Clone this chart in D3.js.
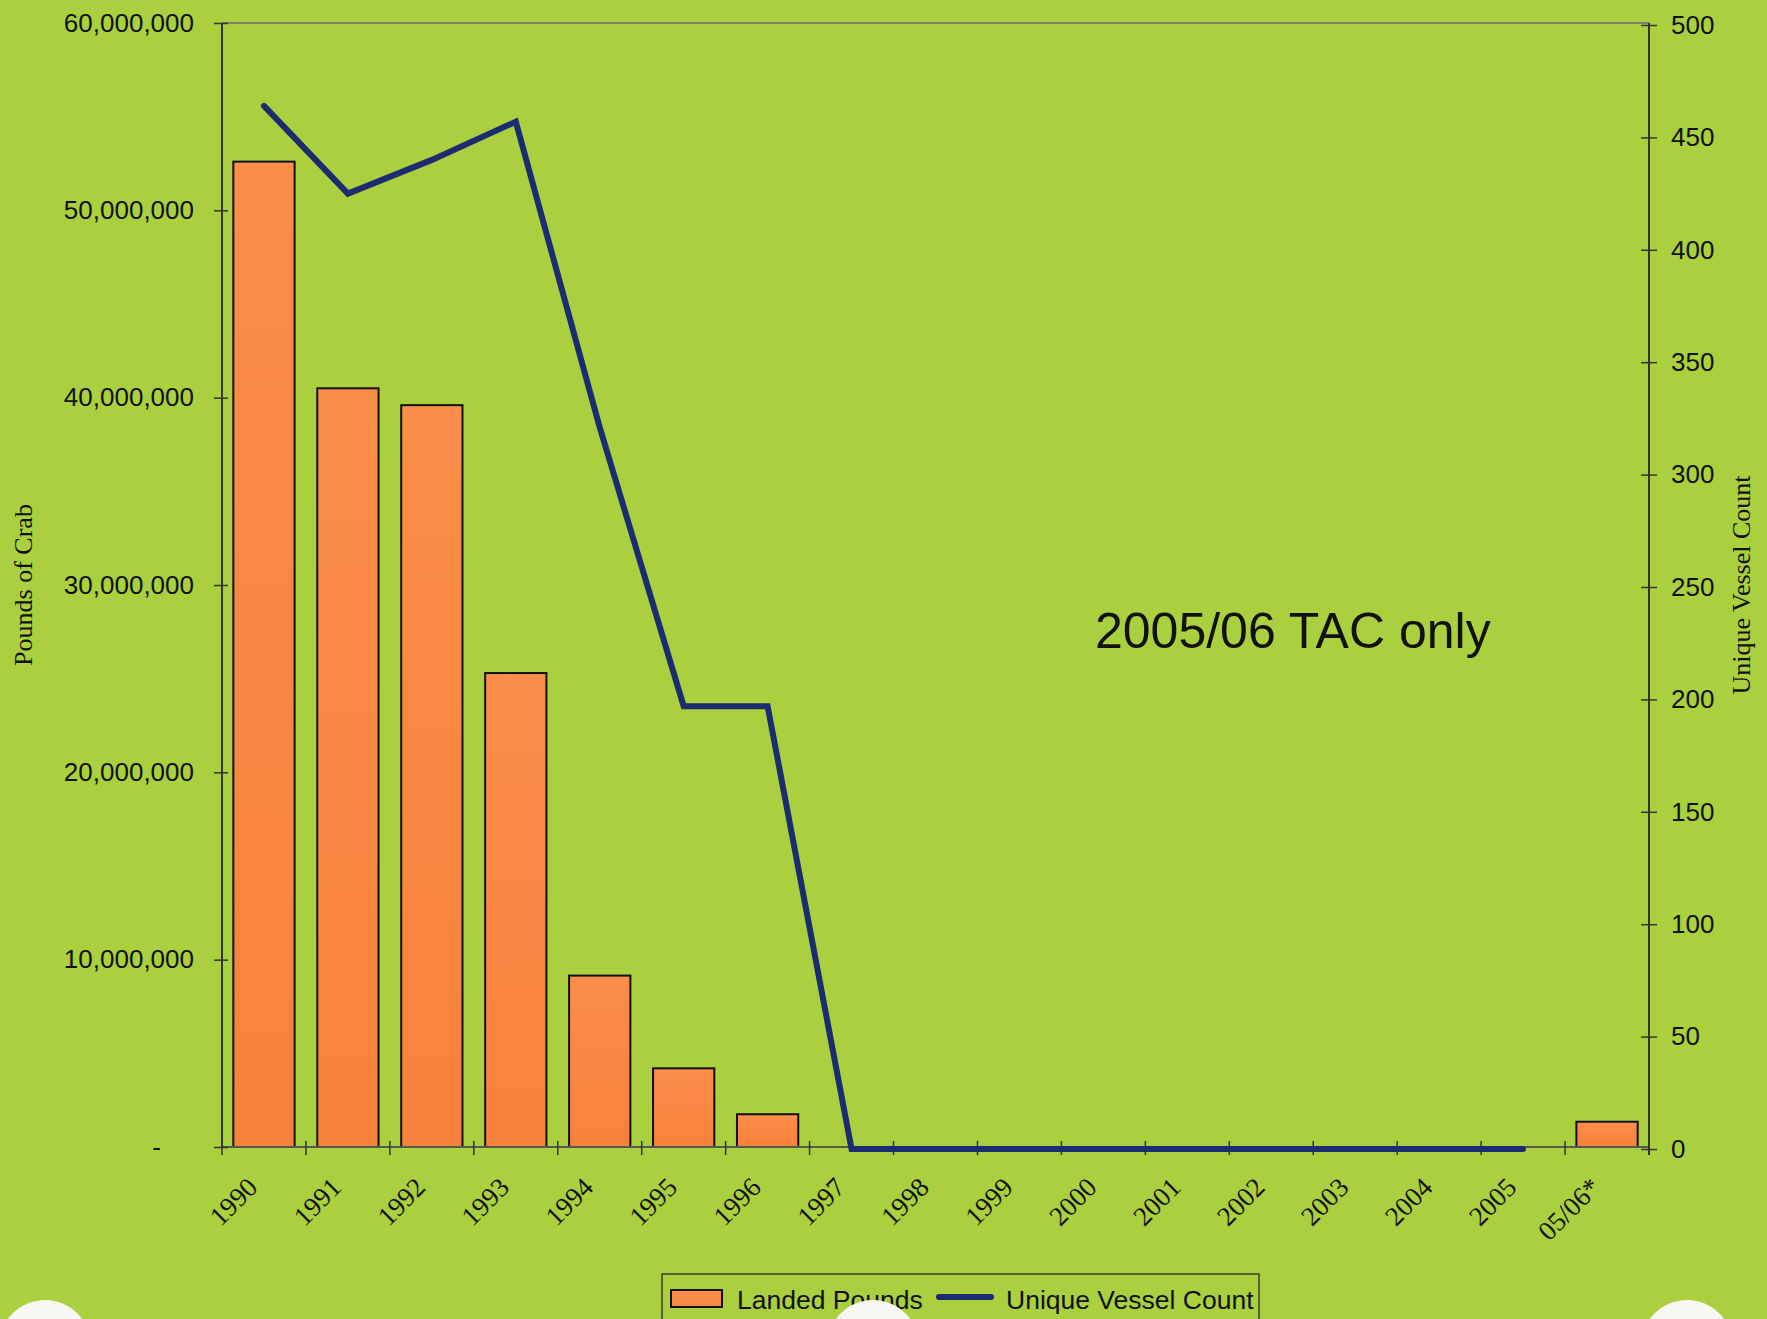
<!DOCTYPE html>
<html>
<head>
<meta charset="utf-8">
<script src="https://cdn.jsdelivr.net/npm/d3@7"></script>
<style>
  html, body { margin: 0; padding: 0; background: #aacf3f; }
  svg { display: block; }
</style>
</head>
<body>
<svg id="chart" width="1767" height="1319"></svg>
<script>
// Seasons on the category axis
const seasons = ["1990","1991","1992","1993","1994","1995","1996","1997","1998","1999","2000","2001","2002","2003","2004","2005","05/06*"];
// Landed pounds per season (bars, left axis)
const landedPounds = [52600000, 40500000, 39600000, 25300000, 9150000, 4200000, 1750000, 0, 0, 0, 0, 0, 0, 0, 0, 0, 1350000];
// Unique vessel count per season (line, right axis); none reported for 05/06*
const vesselCount = [464, 425, 440, 457, 321, 197, 197, 0, 0, 0, 0, 0, 0, 0, 0, 0, null];
// Axis tick values
const poundTicks = [0, 10000000, 20000000, 30000000, 40000000, 50000000, 60000000];
const vesselTicks = [0, 50, 100, 150, 200, 250, 300, 350, 400, 450, 500];

const svg = d3.select("#chart");
const W = 1767, H = 1319;
const plot = { left: 222, right: 1649, top: 23, bottom: 1147 };

svg.append("rect").attr("width", W).attr("height", H).attr("fill", "#aacf3f");

const x = d3.scaleBand().domain(seasons).range([plot.left, plot.right])
  .paddingInner(0.27).paddingOuter(0.135);
const yL = d3.scaleLinear().domain([0, 60000000]).range([plot.bottom, plot.top]);
const yR = d3.scaleLinear().domain([0, 500]).range([plot.bottom + 2, plot.top + 2]);

// Plot frame: top border
svg.append("line").attr("x1", plot.left).attr("x2", plot.right)
  .attr("y1", plot.top).attr("y2", plot.top)
  .attr("stroke", "#7a7f6a").attr("stroke-width", 2);

// Bars
const barGrad = svg.append("defs").append("linearGradient")
  .attr("id", "barFill").attr("x1", 0).attr("x2", 0).attr("y1", 0).attr("y2", 1);
barGrad.append("stop").attr("offset", "0%").attr("stop-color", "#fb8e4a");
barGrad.append("stop").attr("offset", "100%").attr("stop-color", "#f8813c");

svg.append("g").selectAll("rect")
  .data(seasons.map((s, i) => ({ s, v: landedPounds[i] })).filter(d => d.v > 0))
  .join("rect")
  .attr("x", d => x(d.s))
  .attr("y", d => yL(d.v))
  .attr("width", x.bandwidth())
  .attr("height", d => yL(0) - yL(d.v))
  .attr("fill", "url(#barFill)")
  .attr("stroke", "#111")
  .attr("stroke-width", 2);

// Bottom axis with ticks at band boundaries, crossing the baseline
const bottom = svg.append("g").attr("transform", `translate(0,${plot.bottom})`);
bottom.append("line").attr("x1", plot.left).attr("x2", plot.right)
  .attr("stroke", "#55594a").attr("stroke-width", 2);
const bounds = seasons.map(s => x(s) - x.step() * x.paddingInner() / 2).concat([plot.right]);
bottom.selectAll("line.tick").data(bounds).join("line").attr("class", "tick")
  .attr("x1", d => d).attr("x2", d => d).attr("y1", -6).attr("y2", 8)
  .attr("stroke", "#333").attr("stroke-width", 1.5);
bottom.selectAll("text").data(seasons).join("text")
  .attr("transform", d => `translate(${x(d) + x.bandwidth() / 2 - 5},${42}) rotate(-45)`)
  .attr("text-anchor", "end")
  .attr("font-family", "Liberation Serif, Times New Roman, serif")
  .attr("font-size", 27)
  .attr("fill", "#111")
  .text(d => d);

// Left axis
const leftAxis = d3.axisLeft(yL).tickValues(poundTicks).tickSize(8).tickPadding(20)
  .tickFormat(d => d === 0 ? "-" : d3.format(",")(d));
const gL = svg.append("g").attr("transform", `translate(${plot.left},0)`).call(leftAxis);
gL.select(".domain").attr("stroke", "#333").attr("stroke-width", 2).attr("d", `M0,${plot.top}V${plot.bottom}`);
gL.selectAll(".tick line").attr("x1", 6).attr("stroke", "#333").attr("stroke-width", 1.5);
gL.selectAll(".tick text")
  .attr("font-family", "Liberation Sans, Arial, sans-serif")
  .attr("font-size", 26).attr("fill", "#111")
  .attr("dx", d => d === 0 ? -33 : 0);

// Right axis
const rightAxis = d3.axisRight(yR).tickValues(vesselTicks).tickSize(8).tickPadding(14);
const gR = svg.append("g").attr("transform", `translate(${plot.right},0)`).call(rightAxis);
gR.select(".domain").attr("stroke", "#333").attr("stroke-width", 2).attr("d", `M0,${plot.top}V${plot.bottom + 8}`);
gR.selectAll(".tick line").attr("x1", -8).attr("stroke", "#333").attr("stroke-width", 1.5);
gR.selectAll(".tick text")
  .attr("font-family", "Liberation Sans, Arial, sans-serif")
  .attr("font-size", 26).attr("fill", "#111");

// Vessel count line
const line = d3.line()
  .defined(d => d.v !== null)
  .x(d => x(d.s) + x.bandwidth() / 2)
  .y(d => yR(d.v));
svg.append("path")
  .datum(seasons.map((s, i) => ({ s, v: vesselCount[i] })))
  .attr("d", line)
  .attr("fill", "none")
  .attr("stroke", "#1d2c70")
  .attr("stroke-width", 6)
  .attr("stroke-linejoin", "miter")
  .attr("stroke-linecap", "round");

// Axis titles
svg.append("text")
  .attr("transform", `translate(32,${(plot.top + plot.bottom) / 2}) rotate(-90)`)
  .attr("text-anchor", "middle")
  .attr("font-family", "Liberation Serif, Times New Roman, serif")
  .attr("font-size", 26).attr("fill", "#111")
  .text("Pounds of Crab");
svg.append("text")
  .attr("transform", `translate(1750,${(plot.top + plot.bottom) / 2}) rotate(-90)`)
  .attr("text-anchor", "middle")
  .attr("font-family", "Liberation Serif, Times New Roman, serif")
  .attr("font-size", 26).attr("fill", "#111")
  .text("Unique Vessel Count");

// Annotation
svg.append("text")
  .attr("x", 1095).attr("y", 648)
  .attr("font-family", "Liberation Sans, Arial, sans-serif")
  .attr("font-size", 50).attr("fill", "#111")
  .text("2005/06 TAC only");

// Legend
const lg = svg.append("g");
lg.append("rect").attr("x", 662).attr("y", 1274).attr("width", 597).attr("height", 80)
  .attr("fill", "none").attr("stroke", "#3a3f30").attr("stroke-width", 1.5);
lg.append("rect").attr("x", 671).attr("y", 1290).attr("width", 51).attr("height", 17)
  .attr("fill", "#f98a48").attr("stroke", "#111").attr("stroke-width", 2);
lg.append("text").attr("x", 737).attr("y", 1309)
  .attr("font-family", "Liberation Sans, Arial, sans-serif")
  .attr("font-size", 26.5).attr("fill", "#111").text("Landed Pounds");
lg.append("line").attr("x1", 939).attr("x2", 991).attr("y1", 1297).attr("y2", 1297)
  .attr("stroke", "#1d2c70").attr("stroke-width", 6).attr("stroke-linecap", "round");
lg.append("text").attr("x", 1006).attr("y", 1309)
  .attr("font-family", "Liberation Sans, Arial, sans-serif")
  .attr("font-size", 26.5).attr("fill", "#111").text("Unique Vessel Count");

// Binder holes along the bottom edge of the sheet
const holes = [45, 873, 1687];
svg.append("g").selectAll("circle").data(holes).join("circle")
  .attr("cx", d => d).attr("cy", 1346).attr("r", 46)
  .attr("fill", "#f7f7f4");
</script>
</body>
</html>
